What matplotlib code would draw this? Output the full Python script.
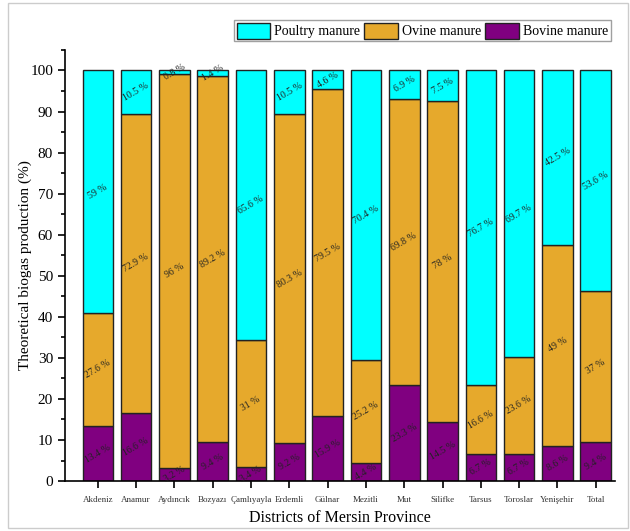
import matplotlib.pyplot as plt
import numpy as np
from matplotlib.patches import Rectangle
from matplotlib.ticker import MultipleLocator

plt.rcParams['font.family'] = ['Liberation Serif', 'DejaVu Serif']

# Data (percent share of theoretical biogas production)
districts = ["Akdeniz", "Anamur", "Aydıncık", "Bozyazı", "Çamlıyayla", "Erdemli", "Gülnar",
             "Mezitli", "Mut", "Silifke", "Tarsus", "Toroslar", "Yenişehir", "Total"]
bovine = [13.4, 16.6, 3.2, 9.4, 3.4, 9.2, 15.9, 4.4, 23.3, 14.5, 6.7, 6.7, 8.6, 9.4]
ovine = [27.6, 72.9, 96, 89.2, 31, 80.3, 79.5, 25.2, 69.8, 78, 16.6, 23.6, 49, 37]
poultry = [59, 10.5, 0.8, 1.4, 65.6, 10.5, 4.6, 70.4, 6.9, 7.5, 76.7, 69.7, 42.5, 53.6]

c_poultry = "#00FFFF"
c_ovine = "#E6A92C"
c_bovine = "#800080"

fig = plt.figure(figsize=(6.3, 5.31), dpi=100)
ax = fig.add_axes([0.103, 0.094, 0.873, 0.812])

x = np.arange(len(districts))
w = 0.8
bov = np.array(bovine)
ovi = np.array(ovine)
pou = np.array(poultry)

b1 = ax.bar(x, bov, w, color=c_bovine, edgecolor="#222222", linewidth=1, label="Bovine manure")
b2 = ax.bar(x, ovi, w, bottom=bov, color=c_ovine, edgecolor="#222222", linewidth=1, label="Ovine manure")
b3 = ax.bar(x, pou, w, bottom=bov + ovi, color=c_poultry, edgecolor="#222222", linewidth=1, label="Poultry manure")

# value labels, rotated like the original
def fmt(v):
    return f"{v:g} %"

for i in x:
    ax.text(i, bov[i] / 2, fmt(bov[i]), ha="center", va="center", rotation=30, fontsize=7, color="#222222")
    ax.text(i, bov[i] + ovi[i] / 2, fmt(ovi[i]), ha="center", va="center", rotation=30, fontsize=7, color="#222222")
    ax.text(i, bov[i] + ovi[i] + pou[i] / 2, fmt(pou[i]), ha="center", va="center", rotation=30, fontsize=7, color="#222222")

ax.set_xlim(-0.86, 13.5)
ax.set_ylim(0, 105)
ax.set_xticks(x)
ax.set_xticklabels(districts, fontsize=6.5, color="#333333")
ax.yaxis.set_major_locator(MultipleLocator(10))
ax.yaxis.set_minor_locator(MultipleLocator(5))
ax.set_yticks(np.arange(0, 101, 10))
ax.tick_params(axis="y", which="major", labelsize=11, length=5, width=1.2)
ax.tick_params(axis="y", which="minor", length=3, width=1.2)
ax.tick_params(axis="x", length=5, width=1.2, pad=6)

ax.spines["top"].set_visible(False)
ax.spines["right"].set_visible(False)
ax.spines["left"].set_linewidth(1.2)
ax.spines["bottom"].set_linewidth(1.2)

ax.set_ylabel("Theoretical biogas production (%)", fontsize=11)
ax.yaxis.set_label_coords(-0.06, 0.5)
ax.set_xlabel("Districts of Mersin Province", fontsize=11.5)

leg = ax.legend(handles=[b3, b2, b1], loc="lower right", bbox_to_anchor=(1.0, 1.01), ncol=3,
                fontsize=10, fancybox=False, edgecolor="#888888", handlelength=2.4, handleheight=1.4,
                columnspacing=0.3, handletextpad=0.3, borderpad=0.2, borderaxespad=0.3)

# light grey frame around the whole picture
fig.patches.append(Rectangle((0.012, 0.005), 0.985, 0.99, transform=fig.transFigure, fill=False,
                             edgecolor="#cccccc", linewidth=1))

fig.savefig("out.png", dpi=100)
